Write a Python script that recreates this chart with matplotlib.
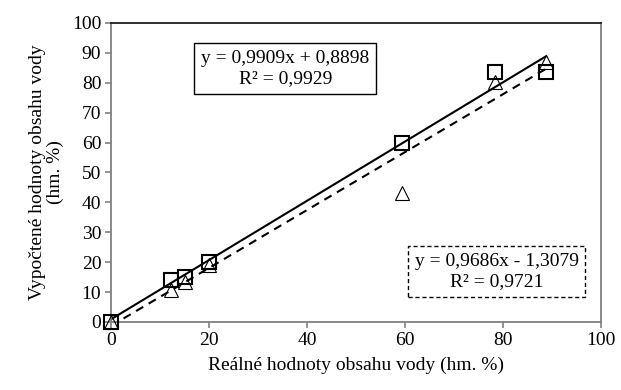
import matplotlib.pyplot as plt

plt.rcParams['font.family'] = ['Liberation Serif', 'DejaVu Serif']

# measured (real) values and computed values for the two models
real = [0, 12.3, 15.2, 20.0, 59.3, 78.3, 88.8]
pred_sq = [0, 14.0, 15.1, 19.9, 60.0, 83.5, 83.6]
pred_tri = [0, 10.8, 13.4, 19.2, 43.0, 80.2, 86.8]

fit_sq = (0.9909, 0.8898)
fit_tri = (0.9686, -1.3079)

fig = plt.figure(figsize=(6.21, 3.9), dpi=100)
ax = fig.add_axes([0.1787, 0.1744, 0.7891, 0.7667])

x_line = [0, max(real)]
ax.plot(x_line, [fit_sq[0] * v + fit_sq[1] for v in x_line], color='black', lw=1.5, zorder=2)
ax.plot(x_line, [fit_tri[0] * v + fit_tri[1] for v in x_line], color='black', lw=1.5,
        dashes=(4, 3), zorder=2)

ax.plot(real, pred_tri, linestyle='none', marker='^', markersize=10.5, markerfacecolor='none',
        markeredgecolor='black', markeredgewidth=0.8, zorder=3, clip_on=False)
ax.plot(real, pred_sq, linestyle='none', marker='s', markersize=10, markerfacecolor='none',
        markeredgecolor='black', markeredgewidth=1.5, zorder=4, clip_on=False)

ax.set_xlim(0, 100)
ax.set_ylim(0, 100)
ax.set_xticks(range(0, 101, 20))
ax.set_yticks(range(0, 101, 10))
ax.tick_params(labelsize=14, color='#808080', length=4, width=1.2, pad=3)

for side in ['left', 'bottom', 'right']:
    ax.spines[side].set_color('#808080')
    ax.spines[side].set_linewidth(1.3)
ax.spines['top'].set_color('#202020')
ax.spines['top'].set_linewidth(1.3)

ax.set_xlabel('Reálné hodnoty obsahu vody (hm. %)', fontsize=14, labelpad=6)
ax.set_ylabel('Vypočtené hodnoty obsahu vody\n(hm. %)', fontsize=14, labelpad=6,
              linespacing=1.0)

ax.text(35.6, 84.8, 'y = 0,9909x + 0,8898\nR² = 0,9929', fontsize=14, ha='center', va='center',
        multialignment='center', linespacing=1.25,
        bbox=dict(boxstyle='square,pad=0.35', facecolor='white', edgecolor='black', lw=1))
ax.text(78.7, 16.8, 'y = 0,9686x - 1,3079\nR² = 0,9721', fontsize=14, ha='center', va='center',
        multialignment='center', linespacing=1.25,
        bbox=dict(boxstyle='square,pad=0.35', facecolor='white', edgecolor='black', lw=1,
                  linestyle=(0, (3, 2))))

fig.savefig('out.png', dpi=100)
